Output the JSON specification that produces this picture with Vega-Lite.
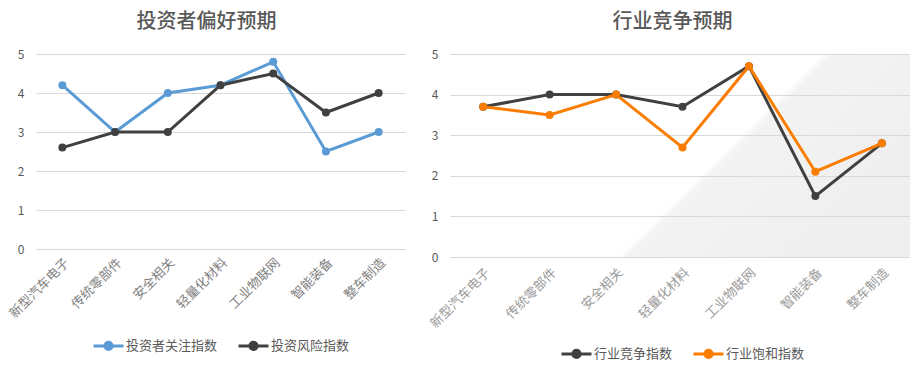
{
  "$schema": "https://vega.github.io/schema/vega-lite/v6.json",
  "padding": {"left": 7, "top": 12, "right": 0, "bottom": 0},
  "background": "white",
  "spacing": 23,
  "config": {
    "font": "Noto Sans CJK SC",
    "view": {"stroke": null},
    "title": {"fontSize": 20, "fontWeight": 500, "color": "#595959", "offset": 16},
    "axis": {"labelFont": "Noto Sans CJK SC", "domain": false, "ticks": false},
    "legend": {"layout": {"bottom": {"anchor": "middle"}}}
  },
  "resolve": {"scale": {"color": "independent"}},
  "hconcat": [
    {
      "title": {"text": "投资者偏好预期", "dx": -14},
      "width": 369,
      "height": 195,
      "data": {"values": [
        {"c": "新型汽车电子", "s": "投资者关注指数", "v": 4.2},
        {"c": "传统零部件", "s": "投资者关注指数", "v": 3.0},
        {"c": "安全相关", "s": "投资者关注指数", "v": 4.0},
        {"c": "轻量化材料", "s": "投资者关注指数", "v": 4.2},
        {"c": "工业物联网", "s": "投资者关注指数", "v": 4.8},
        {"c": "智能装备", "s": "投资者关注指数", "v": 2.5},
        {"c": "整车制造", "s": "投资者关注指数", "v": 3.0},
        {"c": "新型汽车电子", "s": "投资风险指数", "v": 2.6},
        {"c": "传统零部件", "s": "投资风险指数", "v": 3.0},
        {"c": "安全相关", "s": "投资风险指数", "v": 3.0},
        {"c": "轻量化材料", "s": "投资风险指数", "v": 4.2},
        {"c": "工业物联网", "s": "投资风险指数", "v": 4.5},
        {"c": "智能装备", "s": "投资风险指数", "v": 3.5},
        {"c": "整车制造", "s": "投资风险指数", "v": 4.0}
      ]},
      "mark": {"type": "line", "strokeWidth": 3, "point": {"size": 64, "filled": true, "opacity": 1}},
      "encoding": {
        "x": {"field": "c", "type": "nominal", "sort": null, "title": null,
              "scale": {"type": "point", "padding": 0.5},
              "axis": {"labelAngle": -45, "labelFontSize": 13, "labelColor": "#7f7f7f", "labelPadding": 7, "grid": false}},
        "y": {"field": "v", "type": "quantitative", "title": null,
              "scale": {"domain": [0, 5]},
              "axis": {"values": [0,1,2,3,4,5], "labelFontSize": 12, "labelColor": "#595959", "labelPadding": 12, "gridColor": "#d9d9d9", "gridWidth": 1}},
        "color": {"field": "s", "type": "nominal", "title": null,
                  "scale": {"domain": ["投资者关注指数", "投资风险指数"], "range": ["#5B9BD5", "#404040"]},
                  "legend": {"orient": "bottom", "direction": "horizontal", "labelFontSize": 13, "labelColor": "#595959",
                             "symbolType": "M-1,0L1,0M0.24,0A0.24,0.24,0,1,1,-0.24,0A0.24,0.24,0,1,1,0.24,0",
                             "symbolSize": 900, "symbolStrokeWidth": 3, "labelOffset": 1, "columnPadding": 14, "offset": 8}}
      }
    },
    {
      "title": {"text": "行业竞争预期", "dx": -10},
      "width": 465,
      "height": 203,
      "view": {"fill": {"gradient": "linear", "x1": 0, "y1": 0, "x2": 1, "y2": 0.44,
               "stops": [{"offset": 0, "color": "#ffffff"}, {"offset": 0.67, "color": "#ffffff"}, {"offset": 0.69, "color": "#f3f3f3"}, {"offset": 1, "color": "#efefef"}]}},
      "data": {"values": [
        {"c": "新型汽车电子", "s": "行业竞争指数", "v": 3.7},
        {"c": "传统零部件", "s": "行业竞争指数", "v": 4.0},
        {"c": "安全相关", "s": "行业竞争指数", "v": 4.0},
        {"c": "轻量化材料", "s": "行业竞争指数", "v": 3.7},
        {"c": "工业物联网", "s": "行业竞争指数", "v": 4.7},
        {"c": "智能装备", "s": "行业竞争指数", "v": 1.5},
        {"c": "整车制造", "s": "行业竞争指数", "v": 2.8},
        {"c": "新型汽车电子", "s": "行业饱和指数", "v": 3.7},
        {"c": "传统零部件", "s": "行业饱和指数", "v": 3.5},
        {"c": "安全相关", "s": "行业饱和指数", "v": 4.0},
        {"c": "轻量化材料", "s": "行业饱和指数", "v": 2.7},
        {"c": "工业物联网", "s": "行业饱和指数", "v": 4.7},
        {"c": "智能装备", "s": "行业饱和指数", "v": 2.1},
        {"c": "整车制造", "s": "行业饱和指数", "v": 2.8}
      ]},
      "mark": {"type": "line", "strokeWidth": 3, "point": {"size": 64, "filled": true, "opacity": 1}},
      "encoding": {
        "x": {"field": "c", "type": "nominal", "sort": null, "title": null,
              "scale": {"type": "point", "padding": 0.5},
              "axis": {"labelAngle": -45, "labelFontSize": 13, "labelColor": "#9a9a9a", "labelPadding": 9, "grid": false}},
        "y": {"field": "v", "type": "quantitative", "title": null,
              "scale": {"domain": [0, 5]},
              "axis": {"values": [0,1,2,3,4,5], "labelFontSize": 12, "labelColor": "#595959", "labelPadding": 12, "gridColor": "#d9d9d9", "gridWidth": 1}},
        "color": {"field": "s", "type": "nominal", "title": null,
                  "scale": {"domain": ["行业竞争指数", "行业饱和指数"], "range": ["#404040", "#FA7D00"]},
                  "legend": {"orient": "bottom", "direction": "horizontal", "labelFontSize": 13, "labelColor": "#595959",
                             "symbolType": "M-1,0L1,0M0.24,0A0.24,0.24,0,1,1,-0.24,0A0.24,0.24,0,1,1,0.24,0",
                             "symbolSize": 900, "symbolStrokeWidth": 3, "labelOffset": 1, "columnPadding": 14, "offset": 6}}
      }
    }
  ]
}
